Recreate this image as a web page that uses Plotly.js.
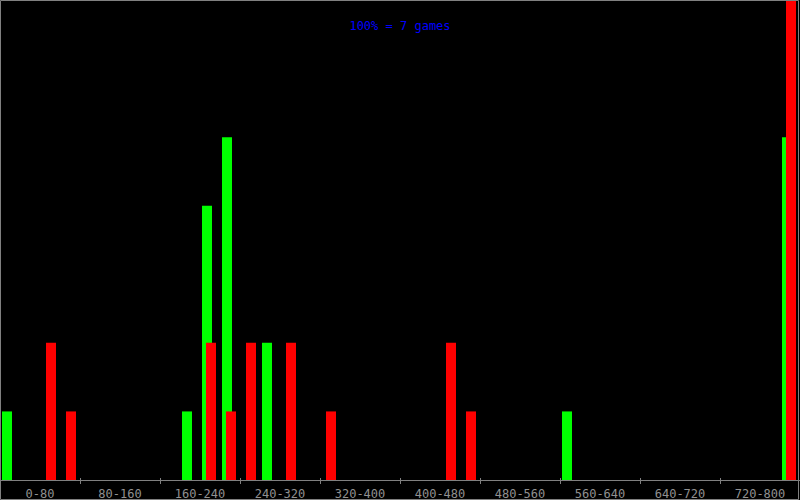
<!DOCTYPE html>
<html>
<head>
<meta charset="utf-8">
<script src="https://cdn.plot.ly/plotly-3.0.1.min.js"></script>
<style>
html,body{margin:0;padding:0;background:#000;}
#chart{width:800px;height:500px;}
</style>
</head>
<body>
<div id="chart"></div>
<script>
// Bin starts (each bin 20 units wide) and game counts
const greenBins = [0, 180, 200, 220, 260, 560, 780];
const greenCounts = [1, 1, 4, 5, 2, 1, 5];
const redBins = [40, 60, 200, 220, 240, 280, 320, 440, 460, 780];
const redCounts = [2, 1, 2, 1, 2, 2, 1, 2, 1, 7];
const tickStarts = [0, 80, 160, 240, 320, 400, 480, 560, 640, 720];
const tickLabels = ["0-80", "80-160", "160-240", "240-320", "320-400", "400-480", "480-560", "560-640", "640-720", "720-800"];
const maxGames = 7;
const titleText = "100% = 7 games";

const gray = "#808080";
const traces = [
  {type: "bar", x: greenBins, y: greenCounts, offset: 2, width: 10,
   marker: {color: "#00ff00", line: {width: 0}}, hoverinfo: "none"},
  {type: "bar", x: redBins, y: redCounts, offset: 6, width: 10,
   marker: {color: "#ff0000", line: {width: 0}}, hoverinfo: "none"}
];

const layout = {
  width: 800, height: 500,
  paper_bgcolor: "#000", plot_bgcolor: "#000",
  margin: {l: 0, r: 0, t: 0, b: 20, pad: 0, autoexpand: false},
  showlegend: false,
  barmode: "overlay",
  title: {text: titleText, font: {family: "DejaVu Sans Mono", size: 12, color: "#0000ff"},
          x: 0.5, xanchor: "center", y: 0.949, yanchor: "middle", xref: "paper", yref: "container"},
  xaxis: {range: [0, 800], fixedrange: true, showgrid: false, zeroline: false,
          showline: true, linecolor: gray, linewidth: 1,
          tickmode: "array", tickvals: tickStarts, ticktext: tickLabels,
          ticklabelshift: 40, ticks: "outside", ticklen: 3, tickcolor: gray, tickwidth: 1,
          minor: {tickmode: "array", tickvals: tickStarts, ticks: "inside", ticklen: 2, tickcolor: gray, tickwidth: 1},
          tickfont: {family: "DejaVu Sans Mono", size: 12, color: "#909090"}},
  yaxis: {range: [0, maxGames], visible: false, fixedrange: true, showgrid: false, zeroline: false},
  shapes: [
    {type: "rect", xref: "paper", yref: "paper", x0: 0.5/800, x1: 798.5/800, y0: -19.5/480, y1: 479.5/480,
     line: {color: gray, width: 1}, fillcolor: "rgba(0,0,0,0)", layer: "above"}
  ]
};

Plotly.newPlot("chart", traces, layout, {staticPlot: true, displayModeBar: false});
</script>
</body>
</html>
